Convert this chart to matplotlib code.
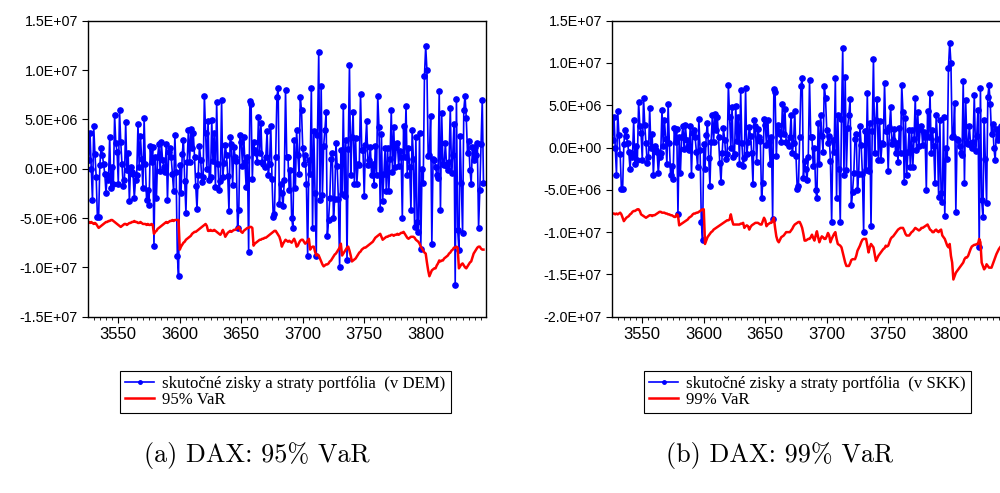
import numpy as np
import matplotlib
matplotlib.use("Agg")
import matplotlib.pyplot as plt
from matplotlib.ticker import MultipleLocator, FuncFormatter

# observed profit / loss of the portfolio (millions), one value per observation
pnl = [
    0.9, 3.6, 0.0, -3.2, 4.3, 1.5, -0.8, -4.9, -4.9, 0.4,
    2.1, 1.4, 0.5, -0.5, -2.5, -0.6, -1.1, 3.2, -2.0, 0.2,
    -1.5, 5.4, 2.6, 1.7, -1.5, 5.9, 2.7, 0.5, -1.8, -1.1,
    4.7, -0.1, 1.6, -3.3, 0.2, -0.3, -0.5, -3.0, -1.1, -0.6,
    4.5, 0.2, 3.3, 1.0, -2.0, 5.1, 0.5, -3.2, -2.2, -3.7,
    2.3, 0.7, 2.2, -7.8, 1.2, -3.0, 1.2, 2.5, -0.2, 2.7,
    0.9, 0.2, -0.3, 2.5, -3.2, 1.7, 2.1, 1.2, -0.5, -2.3,
    3.4, -0.3, -8.8, -10.9, 0.4, -2.5, 1.5, 2.9, -1.2, -4.5,
    0.7, 3.9,
    0.7, 4.0, 2.1, 3.6, 1.2, -1.8, -4.1, -0.6, 2.3, 0.9,
    -1.3, -0.8, 7.4, 3.6, 0.0, 4.8, -1.1, -0.8, 4.9, 0.8,
    3.6, -1.9, 6.8, 0.5, -2.2, -1.2, 7.0, -0.8, 0.6, 2.4,
    1.4, -0.7, -4.3, 3.2, 2.5, -1.7, 2.2, 1.2, 0.8, -6.0,
    -4.2, 3.4, 2.7, 0.3, 3.2, 0.7, -1.9, 1.2, -8.4, 6.9,
    6.6, -1.0, 2.7, 1.9, 1.6, 0.7, 5.2, 1.6, 4.6, 0.7,
    0.5, 0.2, 1.2, 3.8, -0.6, 0.5, 4.3, -1.0, -4.9, -4.6,
    1.2, 7.3, 8.2, -3.6, -1.6, -2.5, -3.8, -1.1, 8.0, 1.2,
    1.2, -2.2, -0.1, -5.0, -6.0, 2.9, -2.0, 3.9, 1.4, -0.5,
    7.3, 5.9, 2.1, 0.5, 1.4, -1.6, -8.8, 0.9, -0.5, 8.2,
    -6.0, 3.8, -2.5, -8.8, 3.4, 11.8, -3.2, 8.4, -2.7, 2.3,
    3.9, 5.7, -6.8, -5.2, -3.0, 1.0, 1.6, -5.0, -3.1, 2.6,
    0.3, -3.1, -10.0, 1.9, -2.6, 6.4, -2.8, 2.9, -9.3, 2.0,
    10.5, -0.6, 3.2, 5.7, -1.5, 3.1, -1.5, 0.5, 0.4, 7.6,
    1.9, 1.9, -2.8, 2.4, 4.8, 0.4, 0.9, 2.2, -0.6, 0.5,
    -1.7, 2.3, -0.6, 7.4, 4.2, -4.1, 3.5, -3.3, -0.5, 2.1,
    -2.3,
    2.1, -2.3, 1.0, 5.9, -0.3, 4.2, 0.2, 2.2, 2.6, 0.3,
    1.8, 1.2, -5.0, 4.3, 1.2, 6.4, -0.6, 2.1, 0.2, -4.2,
    3.9, 1.0, -5.9, 3.2, -5.4, -6.4, 3.6, -8.1, 0.0, -1.4,
    9.4, 12.4, 10.0, 1.3, 1.4, 5.3, -7.6, 1.0, 0.9, 0.2,
    -0.6, -0.9, 7.9, -4.2, 5.6, 0.5, 0.4, 2.6, 0.3, -0.1,
    0.7, 6.2, -0.4, 1.4, 4.5, -11.8, 7.1, -6.2, -8.2, 3.3,
    -1.4, -6.5, 6.0, 7.4, 5.1, 1.6, 2.8, -0.1, -1.5, 2.2,
    0.9, 2.2, 1.4, 2.6, -6.0, -2.2, 2.5, 7.0, -1.4,
]

# 95% VaR (millions)
var95 = [
    -5.4, -5.5, -5.4, -5.5, -5.6, -5.5, -5.6, -5.8, -6.0, -5.9,
    -5.8, -5.7, -5.6, -5.5, -5.4, -5.4, -5.3, -5.3, -5.2, -5.2,
    -5.3, -5.4, -5.5, -5.6, -5.7, -5.8, -5.9, -5.8, -5.7, -5.6,
    -5.6, -5.7, -5.6, -5.5, -5.5, -5.4, -5.4, -5.3, -5.4, -5.4,
    -5.5, -5.5, -5.4, -5.5, -5.6, -5.6, -5.6, -5.7, -5.6, -5.7,
    -5.7, -5.6, -5.7, -6.6, -6.4, -6.3, -6.1, -6.0, -5.9, -5.8,
    -5.7, -5.6, -5.5, -5.4, -5.5, -5.4, -5.3, -5.3, -5.2, -5.3,
    -5.2, -5.2, -5.2, -5.2, -8.2, -7.9, -7.7, -7.5, -7.4, -7.2,
    -7.1, -7.0, -6.9, -6.8, -6.6, -6.5, -6.4, -6.4, -6.3, -6.2,
    -6.1, -6.0, -5.9, -5.8, -5.7, -5.6, -5.8, -6.3, -6.3, -6.2,
    -6.3, -6.3, -6.2, -6.3, -6.4, -6.5, -6.6, -6.7, -6.5, -6.2,
    -6.5, -6.9, -6.7, -6.5, -6.4, -6.3, -6.4, -6.3, -6.2, -6.2,
    -6.1, -6.0, -5.9, -6.2, -6.4, -6.5, -6.3, -6.2, -6.1, -6.0,
    -6.0, -5.9, -5.9, -6.0, -7.8, -7.6, -7.5, -7.4, -7.3, -7.2,
    -7.2, -7.1, -7.1, -7.0, -7.0, -6.9, -6.8, -6.7, -6.6, -6.5,
    -6.4, -6.3, -6.3, -6.5, -6.7, -6.9, -7.3, -7.9, -7.6, -7.4,
    -7.2, -7.3, -7.4, -7.3, -7.4, -7.5, -7.3, -7.1, -7.4, -7.9,
    -7.8, -7.5, -7.3, -7.2, -7.2, -7.4, -7.6, -7.5, -7.3, -7.1,
    -8.2, -8.0, -7.9, -7.9, -8.4, -8.8, -8.7, -8.8, -9.1, -9.4,
    -9.7, -9.9, -9.8, -9.7, -9.7, -9.6, -9.4, -9.3, -9.1, -8.9,
    -8.7, -8.6, -8.4, -8.2, -8.0, -7.6, -8.8, -8.6, -8.4, -8.2,
    -8.0, -7.9, -8.3, -8.8, -9.4, -9.3, -9.2, -9.1, -8.9, -8.7,
    -8.5, -8.4, -8.2, -8.1, -8.0, -8.0, -7.9, -7.8, -7.7, -7.6,
    -7.5, -7.4, -7.2, -7.0, -6.9, -6.8, -6.7, -6.6, -6.9, -7.2,
    -7.1, -7.0, -6.9, -6.9, -6.8, -6.8, -6.7, -6.7, -6.8, -6.7,
    -6.7, -6.6, -6.7, -6.6, -6.5, -6.5, -6.4, -6.6, -6.8, -7.0,
    -7.1, -7.0, -6.9, -6.9, -6.9, -7.0, -7.2, -7.3, -7.4, -7.6,
    -7.9, -8.1, -8.3, -8.5, -8.6, -9.5, -10.3, -10.9, -10.6, -10.3,
    -10.2, -10.1, -10.1, -9.8, -9.6, -9.3, -9.4, -9.3, -9.3, -9.1,
    -9.0, -8.9, -8.8, -8.6, -8.5, -8.3, -8.2, -8.0, -8.0, -7.9,
    -8.0, -10.1, -9.9, -9.7, -9.6, -9.8, -10.0, -10.1, -9.9, -9.7,
    -9.5, -9.4, -9.0, -8.6, -8.4, -8.2, -8.0, -7.9, -7.9, -8.1,
    -8.2, -8.2,
]

# 99% VaR (millions)
var99 = [
    -7.8, -7.8, -7.9, -7.8, -7.9, -7.8, -7.7, -7.9, -8.3, -8.7,
    -8.5, -8.3, -8.2, -8.1, -7.9, -7.8, -7.6, -7.5, -7.5, -7.4,
    -7.3, -7.3, -7.5, -7.9, -8.0, -8.1, -8.2, -8.3, -8.2, -8.1,
    -8.0, -8.0, -8.1, -8.0, -8.0, -7.9, -7.8, -7.7, -7.6, -7.6,
    -7.7, -7.7, -7.7, -7.8, -7.8, -7.9, -7.9, -8.0, -8.0, -8.1,
    -8.2, -8.2, -7.9, -8.0, -9.2, -9.1, -9.0, -8.9, -8.8, -8.7,
    -8.6, -8.5, -8.3, -8.2, -8.1, -7.9, -7.8, -7.8, -7.7, -7.7,
    -7.6, -7.5, -7.4, -7.3, -7.3, -11.4, -11.0, -10.6, -10.4, -10.2,
    -10.0, -9.9, -9.7, -9.6, -9.5, -9.4, -9.3, -9.2, -9.1, -9.0,
    -8.9, -8.8, -8.7, -8.6, -8.6, -8.5, -7.9, -8.6, -9.1, -9.1,
    -9.1, -9.1, -9.1, -9.1, -9.0, -9.0, -8.9, -9.5, -9.3, -9.2,
    -9.3, -9.7, -9.4, -9.2, -9.1, -9.0, -8.9, -8.9, -8.9, -9.0,
    -9.1, -9.1, -8.7, -8.3, -8.6, -9.3, -9.1, -9.0, -8.9, -8.9,
    -8.6, -8.3, -9.5, -10.5, -11.0, -11.2, -10.9, -10.6, -10.5, -10.4,
    -10.2, -10.0, -10.0, -10.0, -10.0, -9.8, -9.6, -9.3, -9.1, -9.0,
    -8.9, -8.8, -8.8, -9.1, -9.5, -10.2, -11.0, -11.0, -10.9, -10.8,
    -10.8, -10.6, -10.3, -10.7, -11.0, -10.4, -9.9, -10.6, -11.2, -10.8,
    -10.5, -10.6, -10.8, -10.8, -10.5, -10.1, -10.4, -11.2, -10.8, -10.5,
    -10.2, -10.0, -10.8, -11.4, -11.5, -11.6, -11.8, -12.4, -13.0, -13.6,
    -14.0, -14.0, -14.0, -13.7, -13.3, -13.2, -13.2, -13.2, -12.8, -12.2,
    -11.9, -11.6, -11.2, -10.9, -10.8, -10.8, -10.8, -11.6, -12.4, -11.8,
    -11.4, -11.6, -11.8, -12.6, -13.4, -13.1, -12.8, -12.6, -12.4, -12.2,
    -12.0, -11.9, -11.6, -11.7, -11.6, -11.2, -10.8, -10.6, -10.5, -10.3,
    -10.1, -9.9, -9.7, -9.6, -9.5, -9.5, -9.5, -9.8, -10.2, -10.4,
    -10.4, -10.4, -10.2, -10.0, -9.9, -9.7, -9.5, -9.6, -9.7, -9.8,
    -9.7, -9.5, -9.5, -9.4, -9.3, -9.2, -9.1, -9.4, -9.7, -9.8,
    -10.0, -10.0, -9.8, -9.7, -9.9, -10.0, -9.8, -9.7, -10.4, -10.6,
    -10.8, -11.2, -11.6, -11.8, -11.4, -12.8, -13.6, -15.6, -15.2, -14.8,
    -14.6, -14.4, -14.2, -14.0, -13.8, -13.6, -13.2, -13.0, -13.0, -12.8,
    -12.4, -12.0, -11.7, -11.6, -11.5, -11.5, -11.4, -11.4, -10.8, -11.2,
    -13.6, -14.0, -14.4, -14.2, -13.8, -14.0, -14.2, -14.2, -14.2, -13.8,
    -13.4, -13.0, -12.6, -12.3, -12.0, -11.8, -11.6, -11.4, -11.3, -11.2,
    -11.1, -11.0,
]

first_obs = 3526
obs = np.arange(first_obs, first_obs + len(pnl))
pnl = np.array(pnl) * 1e6
var95 = np.array(var95) * 1e6
var99 = np.array(var99) * 1e6

panels = [
    ("skutočné zisky a straty portfólia  (v DEM)", "95% VaR", var95,
     (-1.5e7, 1.5e7), "(a) DAX: 95% VaR"),
    ("skutočné zisky a straty portfólia  (v SKK)", "99% VaR", var99,
     (-2.0e7, 1.5e7), "(b) DAX: 99% VaR"),
]

fig = plt.figure(figsize=(10, 4.93), dpi=100)
lefts = [0.0883, 0.6123]
cap_x = [0.257, 0.780]

sci = FuncFormatter(lambda v, p: f"{v:.1E}")

for k, (lab_pnl, lab_var, var, ylim, caption) in enumerate(panels):
    ax = fig.add_axes([lefts[k], 0.3576, 0.3974, 0.6004])
    ax.plot(obs, pnl, color="#0000ff", lw=1.2, marker="o", ms=3.8,
            label=lab_pnl)
    ax.plot(obs, var, color="#ff0000", lw=1.8, label=lab_var)
    ax.set_xlim(3525.6, 3848.8)
    ax.set_ylim(*ylim)
    ax.set_yticks(np.arange(ylim[0], ylim[1] + 1, 5e6))
    ax.yaxis.set_major_formatter(sci)
    ax.xaxis.set_major_locator(MultipleLocator(50))
    ax.xaxis.set_minor_locator(MultipleLocator(5))
    ax.tick_params(axis="both", which="major", direction="out", length=4,
                   width=0.8)
    ax.tick_params(axis="x", which="major", labelsize=12)
    ax.tick_params(axis="y", which="major", labelsize=10.3)
    ax.tick_params(axis="x", which="minor", direction="out", length=2.5,
                   width=0.6)
    ax.tick_params(axis="y", which="both", right=False)
    for lab in ax.get_xticklabels() + ax.get_yticklabels():
        lab.set_family("Liberation Sans")
    for s in ax.spines.values():
        s.set_linewidth(1.0)

    leg = ax.legend(loc="upper left",
                    bbox_to_anchor=(lefts[k] + 0.032, 0.248),
                    bbox_transform=fig.transFigure,
                    prop={"family": "Liberation Serif", "size": 12.1},
                    frameon=True, fancybox=False, framealpha=1,
                    edgecolor="black", handlelength=1.7, handletextpad=0.5,
                    borderpad=0.3, labelspacing=0.0, borderaxespad=0)
    leg.get_frame().set_linewidth(0.8)
    blue_h, red_h = leg.legend_handles
    blue_h.set_markersize(2.5)
    blue_h.set_linewidth(1.2)
    red_h.set_linewidth(1.8)

    fig.text(cap_x[k], 0.077, caption, ha="center", va="center",
             fontsize=18.8, family=["cmr10", "DejaVu Serif"])

fig.savefig("out.png", dpi=100)
